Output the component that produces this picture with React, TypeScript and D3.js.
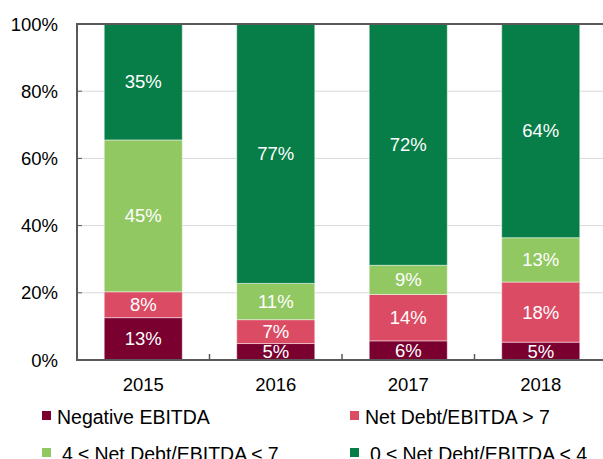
import * as d3 from "d3";

const years = ["2015", "2016", "2017", "2018"];
const negativeEbitda = [12.6, 4.9, 5.7, 5.3];
const above7 = [7.7, 7.1, 13.8, 17.9];
const between4and7 = [45.2, 10.8, 8.7, 13.2];
const below4 = [34.5, 77.2, 71.8, 63.6];

const seriesNames = [
  "Negative EBITDA",
  "Net Debt/EBITDA > 7",
  "4 ≤ Net Debt/EBITDA ≤ 7",
  "0 ≤ Net Debt/EBITDA < 4",
];
const colors = ["#7a0030", "#dc4b64", "#92c862", "#077d47"];
const yTicks = [0, 20, 40, 60, 80, 100];

const W = 603;
const H = 459;
const left = 77;
const right = 607;
const top = 24;
const bottom = 360;
const font = "Liberation Sans, Arial, sans-serif";

export default function App() {
  const rows = years.map((year, i) => ({
    year,
    s0: negativeEbitda[i],
    s1: above7[i],
    s2: between4and7[i],
    s3: below4[i],
  }));
  const keys = ["s0", "s1", "s2", "s3"];
  const stacked = d3.stack<any>().keys(keys)(rows);

  const x = d3
    .scaleBand<string>()
    .domain(years)
    .range([left, right])
    .paddingInner(0.411)
    .paddingOuter(0.2055);
  const y = d3.scaleLinear().domain([0, 100]).range([bottom, top]);
  const step = x.step();

  const legendItems = [
    { i: 0, sx: 42, tx: 57, row: 0 },
    { i: 1, sx: 350, tx: 365, row: 0 },
    { i: 2, sx: 42, tx: 62, row: 1 },
    { i: 3, sx: 350, tx: 370, row: 1 },
  ];

  return (
    <svg
      width={W}
      height={H}
      style={{ position: "absolute", left: 0, top: 0, background: "#fff" }}
      fontFamily={font}
    >
      {/* grid */}
      {yTicks
        .filter((t) => t > 0 && t < 100)
        .map((t) => (
          <line key={t} x1={left} x2={right} y1={y(t)} y2={y(t)} stroke="#d9d9d9" strokeWidth={1} />
        ))}

      {/* bars */}
      {stacked.map((layer, li) =>
        layer.map((d, di) => {
          const y0 = y(d[0]);
          const y1 = y(d[1]);
          const val = d[1] - d[0];
          const bx = x(years[di])!;
          return (
            <g key={`${li}-${di}`}>
              <rect
                x={bx}
                y={y1}
                width={x.bandwidth()}
                height={y0 - y1}
                fill={colors[li]}
                stroke="#ffffff"
                strokeOpacity={0.45}
                strokeWidth={1}
              />
              <text
                x={bx + x.bandwidth() / 2}
                y={(y0 + y1) / 2 + 6.5}
                textAnchor="middle"
                fill="#fff"
                fontSize={18.5}
              >
                {Math.round(val)}%
              </text>
            </g>
          );
        })
      )}

      {/* frame */}
      <line x1={left} x2={right} y1={top} y2={top} stroke="#595959" strokeWidth={2} />
      <line x1={left} x2={right} y1={bottom} y2={bottom} stroke="#595959" strokeWidth={2} />
      <line x1={left} x2={left} y1={top - 1} y2={bottom + 1} stroke="#595959" strokeWidth={2} />

      {/* y ticks */}
      {yTicks.map((t) => (
        <g key={t}>
          <line x1={left} x2={left + 5} y1={y(t)} y2={y(t)} stroke="#595959" strokeWidth={1} />
          <text x={58} y={y(t) + 6.5} textAnchor="end" fontSize={18.5} fill="#000">
            {t}%
          </text>
        </g>
      ))}

      {/* x ticks */}
      {years.slice(1).map((yr) => {
        const bx = x(yr)! - (step - x.bandwidth()) / 2;
        return <line key={yr} x1={bx} x2={bx} y1={bottom - 6} y2={bottom} stroke="#595959" strokeWidth={1.5} />;
      })}
      {years.map((yr) => (
        <text key={yr} x={x(yr)! + x.bandwidth() / 2} y={391} textAnchor="middle" fontSize={18.5} fill="#000">
          {yr}
        </text>
      ))}

      {/* legend */}
      {legendItems.map((it) => (
        <g key={it.i}>
          <rect x={it.sx} y={411 + it.row * 37} width={9} height={9} fill={colors[it.i]} />
          <text x={it.tx} y={424 + it.row * 37} fontSize={19.5} fill="#000">
            {seriesNames[it.i]}
          </text>
        </g>
      ))}
    </svg>
  );
}
